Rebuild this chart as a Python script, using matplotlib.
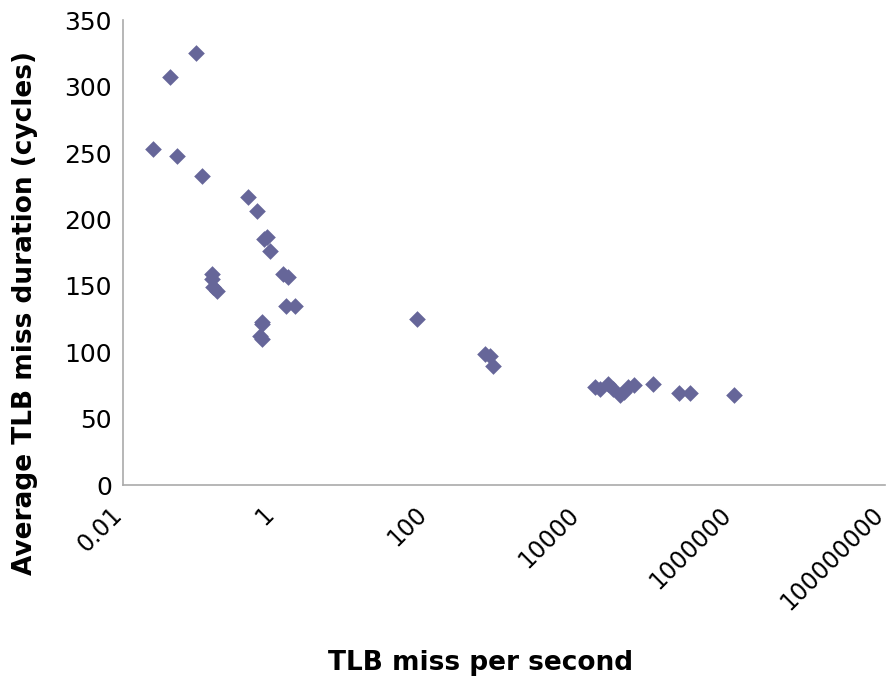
import matplotlib.pyplot as plt
from matplotlib.ticker import FixedLocator, FixedFormatter

# TLB miss rate (per second) vs average miss duration (cycles)
miss_per_sec = [0.025, 0.041, 0.091, 0.051, 0.109, 0.44, 0.57, 0.70, 0.78,
                0.85, 1.27, 1.48, 0.146, 0.146, 0.153, 0.17, 1.38, 1.81,
                0.66, 0.66, 0.63, 0.66,
                73, 560, 650, 720,
                15600, 18200, 23200, 27000, 33100, 37600, 42600, 51300,
                90200, 200000, 277000, 1050000]
miss_cycles = [253, 307, 325, 248, 233, 217, 206, 185, 187,
               176, 159, 157, 159, 155, 149, 146, 135, 135,
               123, 121, 112, 110,
               125, 99, 97, 90,
               74, 72, 76, 72, 68, 70, 74, 75,
               76, 69, 69, 68]

x_ticks = [0.01, 1, 100, 10000, 1000000, 100000000]
x_tick_labels = ["0.01", "1", "100", "10000", "1000000", "100000000"]
y_ticks = [0, 50, 100, 150, 200, 250, 300, 350]

fig = plt.figure(figsize=(8.91, 6.76), dpi=100)
ax = fig.add_axes([0.138, 0.2825, 0.855, 0.6875])

ax.scatter(miss_per_sec, miss_cycles, marker="D", s=72, color="#666699",
           linewidths=0, zorder=3)

ax.set_xscale("log")
ax.set_xlim(0.01, 1e8)
ax.set_ylim(0, 350)
ax.xaxis.set_major_locator(FixedLocator(x_ticks))
ax.xaxis.set_major_formatter(FixedFormatter(x_tick_labels))
ax.xaxis.set_minor_locator(FixedLocator([]))
ax.set_yticks(y_ticks)

for s in ["top", "right"]:
    ax.spines[s].set_visible(False)
for s in ["left", "bottom"]:
    ax.spines[s].set_color("#aaaaaa")
    ax.spines[s].set_linewidth(1.2)

ax.tick_params(axis="y", length=0, labelsize=18, pad=8)
ax.tick_params(axis="x", length=0, labelsize=17, pad=22)
plt.setp(ax.get_xticklabels(), rotation=45, ha="right", va="baseline",
         rotation_mode="anchor")

ax.set_xlabel("TLB miss per second", fontsize=19, fontweight="bold")
ax.set_ylabel("Average TLB miss duration (cycles)", fontsize=19,
              fontweight="bold")
ax.xaxis.set_label_coords(0.47, -0.355)
ax.yaxis.set_label_coords(-0.112, 0.37)

fig.savefig("out.png", dpi=100)
